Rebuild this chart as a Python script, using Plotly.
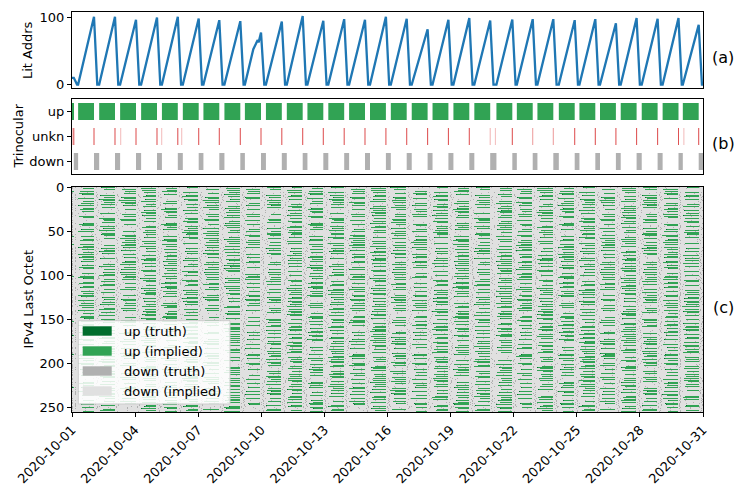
import numpy as np
import plotly.graph_objects as go

# ------------------------------------------------------------------ data
tick_days = [0, 3, 6, 9, 12, 15, 18, 21, 24, 27, 30]
tick_labels = ["2020-10-01", "2020-10-04", "2020-10-07", "2020-10-10",
               "2020-10-13", "2020-10-16", "2020-10-19", "2020-10-22",
               "2020-10-25", "2020-10-28", "2020-10-31"]

# daily cycles, times in days since 2020-10-01 00:00 (cycle 0 already running at t=0)
rise_start = [0.000, 0.291, 1.292, 2.288, 3.286, 4.275, 5.269, 6.248, 7.247, 8.220, 9.220,
              10.213, 11.193, 12.186, 13.175, 14.169, 15.158, 16.152, 17.141, 18.134, 19.128,
              20.179, 21.149, 22.128, 23.145, 24.125, 25.104, 26.088, 27.087, 28.080, 29.040]
peak_t = [0.085, 1.046, 2.044, 3.043, 4.041, 5.030, 6.024, 7.003, 8.002, 8.986, 9.975,
          10.968, 11.948, 12.941, 13.930, 14.924, 15.913, 16.907, 17.896, 18.889, 19.883,
          20.934, 21.904, 22.883, 23.900, 24.880, 25.859, 26.843, 27.842, 28.835, 29.795]
peak_v = [10, 100.5, 100.5, 96, 99.5, 100.5, 98, 95.5, 94, 77, 93.5,
          101.5, 94.5, 97, 96, 100.5, 97.5, 82, 96, 98.5, 95,
          96.5, 97, 97, 95.5, 97, 91, 98.5, 97.5, 98.5, 88.5]
fall_end = [0.240, 1.201, 2.199, 3.198, 4.196, 5.185, 6.179, 7.158, 8.157, 9.141, 10.130,
            11.123, 12.103, 13.096, 14.085, 15.079, 16.068, 17.062, 18.051, 19.044, 20.038,
            21.089, 22.059, 23.038, 24.055, 25.035, 26.014, 26.998, 27.997, 28.990, 29.950]
# extra vertices on irregular rising edges
bump_cycle = [9, 9, 9, 9]
bump_t = [8.62, 8.75, 8.83, 8.87]
bump_v = [52.5, 62.5, 66, 62.5]

# unknown-state marks: one at each drop (opacity per cycle) plus a few faint extras
unkn_alpha = [0.8, 0.8, 0.8, 0.8, 0.8, 0.8, 0.8, 0.8, 0.8, 0.8, 0.8,
              0.8, 0.8, 0.8, 0.8, 0.8, 0.8, 0.8, 0.8, 0.8, 0.35,
              0.8, 0.45, 0.45, 0.8, 0.8, 0.8, 0.8, 0.8, 0.8, 0.8]
unkn_extra_t = [0.014, 2.315, 4.265, 5.216, 20.13, 29.09]

# per-address order in which addresses light up within a cycle (estimated)
addr_rank = [
    0x9c, 0x3e, 0xd1, 0x47, 0xb8, 0x05, 0x6a, 0xf2, 0x21, 0x8d, 0x5b, 0xc6, 0x14, 0xe9, 0x72, 0xaf,
    0x38, 0xc1, 0x0e, 0x94, 0x7b, 0xe4, 0x59, 0xa6, 0x2d, 0xf8, 0x63, 0x17, 0xbd, 0x40, 0x86, 0xda,
    0x51, 0xee, 0x29, 0x7f, 0xb3, 0x0a, 0xc8, 0x65, 0x9e, 0x33, 0xf5, 0x1c, 0x88, 0xd4, 0x46, 0xab,
    0x12, 0x77, 0xe0, 0x5c, 0xa1, 0x3b, 0x96, 0xce, 0x08, 0x6f, 0xb9, 0x24, 0xfd, 0x81, 0x4a, 0xd7,
    0x6d, 0x02, 0xbf, 0x35, 0xe7, 0x90, 0x58, 0x1a, 0xc3, 0x7e, 0x2f, 0xa8, 0xe2, 0x4d, 0x99, 0x16,
    0xf0, 0x84, 0x3d, 0x69, 0x0c, 0xd9, 0xa4, 0x52, 0xb6, 0x1e, 0x75, 0xec, 0x27, 0xc0, 0x8b, 0x43,
    0x5f, 0xb1, 0x19, 0xca, 0x7a, 0x04, 0xe5, 0x9a, 0x36, 0xd0, 0x61, 0x8f, 0x2a, 0xf7, 0xac, 0x4e,
    0x83, 0x26, 0xf9, 0x45, 0xbe, 0x6c, 0x11, 0xd5, 0x97, 0x3a, 0x70, 0xe8, 0x0f, 0xa2, 0x5d, 0xc9,
    0x31, 0xdc, 0x66, 0xa0, 0x0b, 0x87, 0xf4, 0x4c, 0xb2, 0x1d, 0xc5, 0x79, 0xe1, 0x54, 0x98, 0x2c,
    0xae, 0x48, 0x7d, 0x13, 0xfb, 0x3f, 0x92, 0xc4, 0x6e, 0x07, 0xb7, 0x5a, 0x22, 0xe6, 0x8e, 0x71,
    0x1b, 0xc7, 0x55, 0x8a, 0x2e, 0xf3, 0xb0, 0x64, 0x09, 0xd3, 0x41, 0x9f, 0x76, 0xed, 0x37, 0xba,
    0x62, 0x0d, 0xa9, 0xdd, 0x4f, 0x85, 0x18, 0xcc, 0x73, 0xef, 0x2b, 0x95, 0x50, 0xb4, 0x03, 0xe3,
    0xc2, 0x6b, 0x34, 0xf6, 0x91, 0x28, 0x7c, 0xa7, 0xdf, 0x10, 0x56, 0xbc, 0x82, 0x3c, 0x68, 0xff,
    0x44, 0x9b, 0xe0, 0x20, 0xc5, 0x74, 0x0e, 0x89, 0xb5, 0x5e, 0x15, 0xda, 0x67, 0xa3, 0x30, 0xf1,
    0x8c, 0x23, 0x70, 0xd8, 0x06, 0xb9, 0x4b, 0x9d, 0xe4, 0x39, 0xa5, 0x60, 0xcf, 0x1f, 0x7f, 0x53,
    0xd6, 0x5b, 0x2a, 0x80, 0xbb, 0x46, 0xfc, 0x0f, 0x93, 0x6c, 0x1c, 0xe9, 0x42, 0xad, 0x8e, 0x25]
day_shift = [0, 37, 142, 81, 203, 12, 166, 95, 230, 58, 119, 187, 24, 150, 73, 211,
             101, 44, 176, 9, 133, 248, 66, 197, 30, 158, 87, 222, 115, 50, 180]
ADDR_SPACE = 256

state_labels = ["down (implied)", "down (truth)", "up (implied)", "up (truth)"]
state_colors = ["#e0e0e0", "#b0b0b0", "#31a354", "#006d2c"]
panel_tags = ["(a)", "(b)", "(c)"]

# ------------------------------------------------------------------ derived series
n_cyc = len(peak_t)
line_x, line_y = [0.0], [peak_v[0]]
for c in range(n_cyc):
    if c > 0:
        line_x.append(rise_start[c]); line_y.append(0)
    for bc, bt, bv in zip(bump_cycle, bump_t, bump_v):
        if bc == c:
            line_x.append(bt); line_y.append(bv)
    line_x += [peak_t[c], fall_end[c]]
    line_y += [peak_v[c], 0]
nxt = rise_start[1:] + [30.0]
line_x.append(30.0); line_y.append(0)

# heat map states per address per hour
H = 30 * 24
z = np.zeros((ADDR_SPACE, H), dtype=int)
rank = np.array(addr_rank)
for c in range(n_cyc):
    r0, p, v = rise_start[c], peak_t[c], peak_v[c]
    rr = (rank + day_shift[c]) % ADDR_SPACE
    h_r0 = int(np.floor(r0 * 24)); h_off = max(int(np.floor(p * 24)), h_r0 + 1)
    span = h_off - h_r0
    for a in range(ADDR_SPACE):
        if rr[a] < v:
            h_on = int(np.floor((r0 + rr[a] / ADDR_SPACE * (p - r0)) * 24))
            h_on = min(h_on, h_off - 1)
            z[a, h_on:h_off] = 2
            if rank[a] % 3 == 0:
                z[a, h_on] = 3
        elif rank[a] % 2 == 0:
            h = h_r0 + rank[a] % span
            if z[a, h] == 0:
                z[a, h] = 1
    h0 = int(np.ceil(p * 24)); h1 = min(int(np.floor(nxt[c] * 24)), H)
    n = h1 - h0
    if n > 0:
        for a in range(ADDR_SPACE):
            h = h0 + rank[a] % n
            if h < H and z[a, h] == 0 and rank[a] % 3 != 2:
                z[a, h] = 1

# ------------------------------------------------------------------ figure
FONT = "DejaVu Sans"
fig = go.Figure()

# (a) lit addresses
fig.add_trace(go.Scatter(x=line_x, y=line_y, mode="lines",
                         line=dict(color="#1f77b4", width=2.3),
                         xaxis="x", yaxis="y", showlegend=False, hoverinfo="skip"))

# (b) trinocular states
up_len = [p - r for p, r in zip(peak_t, rise_start)]
fig.add_trace(go.Bar(y=[2] * n_cyc, x=up_len, base=rise_start, orientation="h", width=0.68,
                     marker=dict(color=state_colors[2], line=dict(width=0)),
                     xaxis="x2", yaxis="y2", showlegend=False, hoverinfo="skip"))
dn_len = [n_ - p for n_, p in zip(nxt, peak_t)]
fig.add_trace(go.Bar(y=[0] * n_cyc, x=dn_len, base=peak_t, orientation="h", width=0.68,
                     marker=dict(color=state_colors[1], line=dict(width=0)),
                     xaxis="x2", yaxis="y2", showlegend=False, hoverinfo="skip"))
u_t = peak_t + unkn_extra_t
u_a = unkn_alpha + [0.3] * len(unkn_extra_t)
fig.add_trace(go.Bar(y=[1] * len(u_t), x=[0.05] * len(u_t), base=[t - 0.025 for t in u_t],
                     orientation="h", width=0.68,
                     marker=dict(color=[f"rgba(214,39,40,{a})" for a in u_a], line=dict(width=0)),
                     xaxis="x2", yaxis="y2", showlegend=False, hoverinfo="skip"))

# (c) per-address heat map
cs = [[0, state_colors[0]], [0.25, state_colors[0]], [0.25, state_colors[1]], [0.5, state_colors[1]],
      [0.5, state_colors[2]], [0.75, state_colors[2]], [0.75, state_colors[3]], [1, state_colors[3]]]
fig.add_trace(go.Heatmap(z=z, x=(np.arange(H) + 0.5) / 24, y=np.arange(ADDR_SPACE),
                         colorscale=cs, zmin=-0.5, zmax=3.5, showscale=False,
                         xaxis="x3", yaxis="y3", hoverinfo="skip"))

ax_common = dict(showline=True, mirror=True, linecolor="black", linewidth=1.2,
                 showgrid=False, zeroline=False, tickfont=dict(family=FONT, size=13, color="black"),
                 ticks="outside", ticklen=4, tickwidth=1.1, tickcolor="black")
xa_top = dict(ax_common, range=[0, 30], ticks="", showticklabels=False)

PL, PR, PT, PB = 72, 32, 12, 77
W, Hh = 735, 489
pw, ph = W - PL - PR, Hh - PT - PB


def px(x):
    return (x - PL) / pw


def py(y):
    return (Hh - PB - y) / ph


fig.update_layout(
    width=W, height=Hh, margin=dict(l=PL, r=PR, t=PT, b=PB, autoexpand=False),
    paper_bgcolor="white", plot_bgcolor="white", barmode="overlay",
    font=dict(family=FONT, size=13, color="black"), showlegend=False,
    xaxis=dict(xa_top, anchor="y", domain=[0, 1]),
    xaxis2=dict(xa_top, anchor="y2", domain=[0, 1], matches="x"),
    xaxis3=dict(ax_common, anchor="y3", domain=[0, 1], range=[0, 30], tickvals=tick_days,
                ticktext=tick_labels, tickangle=-45),
    yaxis=dict(ax_common, anchor="x", domain=[py(88), py(12)], range=[-5.1, 107.6],
               tickvals=[0, 100]),
    yaxis2=dict(ax_common, anchor="x2", domain=[py(174), py(99)], range=[-0.5, 2.5],
                tickvals=[0, 1, 2], ticktext=["down", "unkn", "up"]),
    yaxis3=dict(ax_common, anchor="x3", domain=[0, py(187)], range=[255.5, -0.5],
                tickvals=[0, 50, 100, 150, 200, 250]),
)

ann = []
for tag, yc in zip(panel_tags, [57, 143, 307]):
    ann.append(dict(text=tag, x=px(723), y=py(yc), xref="paper", yref="paper",
                    xanchor="center", yanchor="middle",
                    showarrow=False, font=dict(family=FONT, size=16)))
for title, xc, yc in [("Lit Addrs", 28, 50), ("Trinocular", 18, 136.5), ("IPv4 Last Octet", 28, 299.5)]:
    ann.append(dict(text=title, x=px(xc), y=py(yc), xref="paper", yref="paper", textangle=-90,
                    xanchor="center", yanchor="middle",
                    showarrow=False, font=dict(family=FONT, size=13)))

# legend drawn as patches inside panel (c)
shapes = [dict(type="rect", xref="paper", yref="paper", x0=px(78.3), x1=px(230), y0=py(404),
               y1=py(320.7), fillcolor="rgba(255,255,255,0.85)", line=dict(color="#cccccc", width=1),
               layer="above")]
legend_order = [3, 2, 1, 0]
for i, s in enumerate(legend_order):
    yc = 331 + 20 * i
    shapes.append(dict(type="rect", xref="paper", yref="paper", x0=px(82.7), x1=px(111.7),
                       y0=py(yc + 4.7), y1=py(yc - 4.7), fillcolor=state_colors[s],
                       line=dict(width=0), layer="above"))
    ann.append(dict(text=state_labels[s], x=px(121.5), y=py(yc), xref="paper", yref="paper",
                    xanchor="left", yanchor="middle", showarrow=False,
                    font=dict(family=FONT, size=13)))
fig.update_layout(annotations=ann, shapes=shapes)

fig.write_html("out.html", config={"displayModeBar": False},
               post_script="document.body.style.margin='0px';")
